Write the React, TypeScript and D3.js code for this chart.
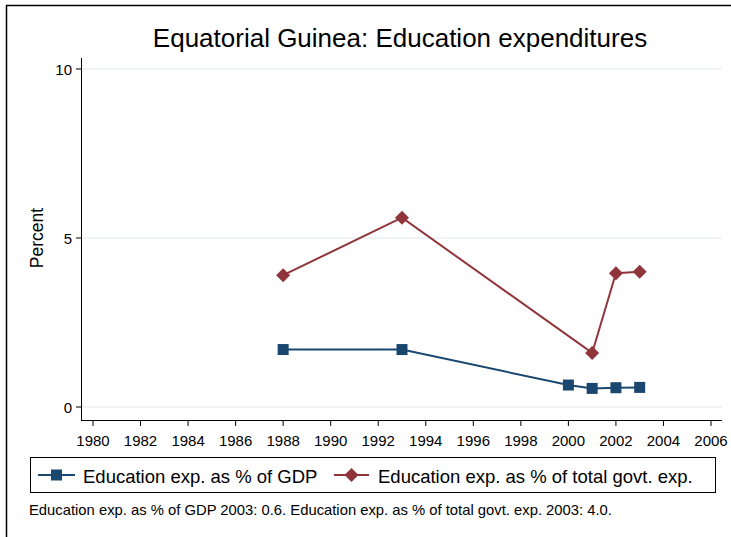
import React from 'react';
import * as d3 from 'd3';

const gdpYears = [1988, 1993, 2000, 2001, 2002, 2003];
const gdpValues = [1.7, 1.7, 0.65, 0.55, 0.57, 0.58];
const govtYears = [1988, 1993, 2001, 2002, 2003];
const govtValues = [3.9, 5.6, 1.6, 3.96, 4.0];
const xTicks = d3.range(1980, 2007, 2);
const yTicks = [0, 5, 10];

const NAVY = '#1a476f';
const MAROON = '#90353b';
const FONT = '"Liberation Sans", Arial, sans-serif';

const App: React.FC = () => {
  const width = 731;
  const height = 537;

  const x = d3.scaleLinear().domain([1980, 2006]).range([93, 711]);
  const y = d3.scaleLinear().domain([0, 10]).range([407, 69]);

  const gdp = gdpYears.map((yr, i) => ({ yr, v: gdpValues[i] }));
  const govt = govtYears.map((yr, i) => ({ yr, v: govtValues[i] }));

  const line = d3.line<{ yr: number; v: number }>()
    .x(d => x(d.yr))
    .y(d => y(d.v));

  const square = (cx: number, cy: number, key: string | number) => (
    <rect key={key} x={cx - 5.5} y={cy - 5.5} width={11} height={11} fill={NAVY} />
  );
  const diamond = (cx: number, cy: number, key: string | number) => (
    <path key={key} d={`M${cx},${cy - 7}L${cx + 7},${cy}L${cx},${cy + 7}L${cx - 7},${cy}Z`} fill={MAROON} />
  );

  return (
    <svg width={width} height={height} style={{ position: 'absolute', left: 0, top: 0, background: '#fff' }}
      fontFamily={FONT}>
      {/* outer frame, only top and left edges visible */}
      <rect x={6.5} y={5.5} width={800} height={600} fill="none" stroke="#000" strokeWidth={1.5} />

      <text x={400} y={47} textAnchor="middle" fontSize={26} fill="#000">
        Equatorial Guinea: Education expenditures
      </text>

      {/* grid */}
      {yTicks.map(t => (
        <line key={t} x1={82} x2={722} y1={y(t)} y2={y(t)} stroke="#eaf2f3" strokeWidth={1.5} />
      ))}

      {/* y axis */}
      <line x1={81.5} x2={81.5} y1={58} y2={420} stroke="#000" strokeWidth={1} />
      {yTicks.map(t => (
        <g key={t}>
          <line x1={76} x2={81.5} y1={y(t)} y2={y(t)} stroke="#000" />
          <text x={72} y={y(t) + 5.5} textAnchor="end" fontSize={15}>{t}</text>
        </g>
      ))}
      <text transform={`translate(43,238) rotate(-90)`} textAnchor="middle" fontSize={17.5}>Percent</text>

      {/* x axis */}
      <line x1={81} x2={722} y1={420.5} y2={420.5} stroke="#000" strokeWidth={1} />
      {xTicks.map(t => (
        <g key={t}>
          <line x1={x(t)} x2={x(t)} y1={420.5} y2={426} stroke="#000" />
          <text x={x(t)} y={445.5} textAnchor="middle" fontSize={15}>{t}</text>
        </g>
      ))}

      {/* series */}
      <path d={line(gdp) || ''} fill="none" stroke={NAVY} strokeWidth={2} />
      {gdp.map((d, i) => square(x(d.yr), y(d.v), i))}
      <path d={line(govt) || ''} fill="none" stroke={MAROON} strokeWidth={2} />
      {govt.map((d, i) => diamond(x(d.yr), y(d.v), i))}

      {/* legend */}
      <rect x={30.5} y={457.5} width={685} height={35} fill="#fff" stroke="#000" strokeWidth={1} />
      <line x1={38} x2={75} y1={475} y2={475} stroke={NAVY} strokeWidth={2} />
      {square(56.5, 475, 'ls')}
      <text x={83} y={483} fontSize={18.5}>Education exp. as % of GDP</text>
      <line x1={334} x2={369} y1={475} y2={475} stroke={MAROON} strokeWidth={2} />
      {diamond(351.5, 475, 'ld')}
      <text x={378} y={483} fontSize={18.5}>Education exp. as % of total govt. exp.</text>

      <text x={29} y={515} fontSize={14.8}>
        Education exp. as % of GDP 2003: 0.6. Education exp. as % of total govt. exp. 2003: 4.0.
      </text>
    </svg>
  );
};

export default App;
